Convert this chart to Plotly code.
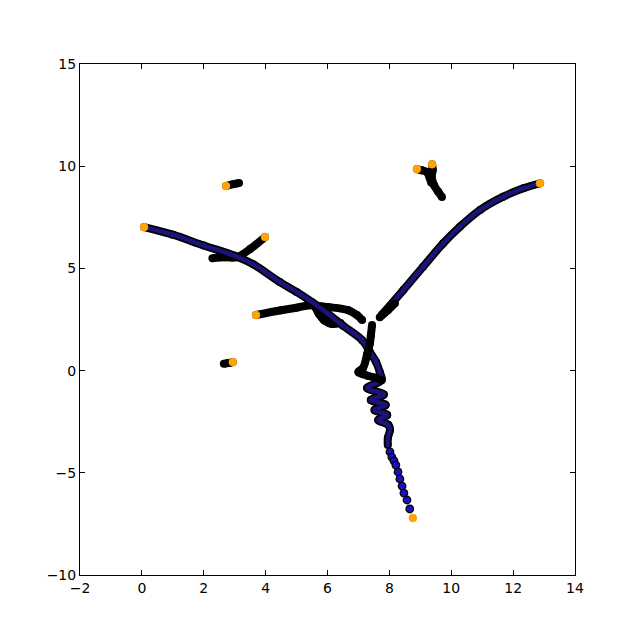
import plotly.graph_objects as go

# ---- data ----
# Blue trajectory A (dense part)
a_x = [0.07, 1.0, 2.0, 3.0, 3.6, 4.46, 5.0, 5.5, 6.0, 6.5, 7.12, 7.37, 7.57, 7.69, 7.75,
       7.28, 7.82, 7.40, 7.88, 7.52, 7.93, 7.64, 7.97, 8.02, 7.95, 7.95]
a_y = [7.02, 6.65, 6.12, 5.62, 5.2, 4.33, 3.85, 3.35, 2.80, 2.2, 1.49, 0.91, 0.42, -0.07, -0.46,
       -0.85, -1.17, -1.44, -1.68, -1.93, -2.17, -2.42, -2.66, -2.90, -3.30, -3.64]
# Blue trajectory A (sparse tail dots)
a_tail_x = [8.02, 8.08, 8.15, 8.21, 8.28, 8.34, 8.41, 8.47, 8.57, 8.66]
a_tail_y = [-3.98, -4.23, -4.42, -4.62, -4.96, -5.30, -5.65, -5.99, -6.33, -6.77]
# Blue trajectory B
b_x = [7.75, 8.45, 9.09, 9.74, 10.28, 10.93, 11.68, 12.33, 12.87]
b_y = [2.72, 3.94, 5.08, 6.23, 7.04, 7.86, 8.51, 8.92, 9.16]
b_black_x = [7.69, 7.95, 8.18]
b_black_y = [2.61, 2.95, 3.30]
# Black trajectories
c_x = [2.28, 2.7, 3.07, 3.5, 3.98]
c_y = [5.50, 5.54, 5.55, 5.95, 6.54]
d_x = [3.69, 4.5, 5.0, 5.44, 6.01, 6.66, 6.95, 7.12]
d_y = [2.72, 2.95, 3.08, 3.20, 3.11, 2.96, 2.72, 2.47]
loop_x = [5.60, 5.72, 5.90, 6.15, 6.42]
loop_y = [3.12, 2.78, 2.45, 2.28, 2.33]
e_x = [7.44, 7.40, 7.37, 7.28, 7.15, 7.00, 7.30, 7.55, 7.75]
e_y = [2.23, 1.70, 1.34, 0.80, 0.13, -0.07, -0.25, -0.35, -0.46]
g_x = [2.72, 2.95, 3.14]
g_y = [9.03, 9.12, 9.18]
h_x = [2.94, 2.80, 2.65]
h_y = [0.42, 0.37, 0.33]
f1_x = [8.89, 9.05, 9.21, 9.30, 9.35]
f1_y = [9.86, 9.80, 9.72, 9.45, 9.20]
f2_x = [9.38, 9.40, 9.37, 9.45, 9.58, 9.70]
f2_y = [10.10, 9.81, 9.45, 9.05, 8.75, 8.49]
# Orange end points
end_x = [0.07, 8.76, 12.87, 3.98, 3.69, 2.72, 2.94, 8.89, 9.38]
end_y = [7.02, -7.21, 9.16, 6.54, 2.72, 9.03, 0.42, 9.86, 10.10]

x_ticks = [-2, 0, 2, 4, 6, 8, 10, 12, 14]
y_ticks = [-10, -5, 0, 5, 10, 15]

BLACK_W = 8
BLUE_W = 4.5
BLUE = "#1b1478"

fig = go.Figure()

def black_path(xs, ys):
    fig.add_trace(go.Scatter(x=xs, y=ys, mode="lines+markers",
                             line=dict(color="black", width=BLACK_W, shape="spline"),
                             marker=dict(color="black", size=BLACK_W),
                             hoverinfo="skip", showlegend=False))

def blue_path(xs, ys):
    black_path(xs, ys)
    fig.add_trace(go.Scatter(x=xs, y=ys, mode="lines+markers",
                             line=dict(color=BLUE, width=BLUE_W, shape="spline"),
                             marker=dict(color=BLUE, size=BLUE_W),
                             hoverinfo="skip", showlegend=False))

for xs, ys in [(c_x, c_y), (d_x, d_y), (loop_x, loop_y), (g_x, g_y), (h_x, h_y),
               (f1_x, f1_y), (f2_x, f2_y)]:
    black_path(xs, ys)

blue_path(a_x, a_y)
blue_path(b_x, b_y)
black_path(b_black_x, b_black_y)
black_path(e_x, e_y)

fig.add_trace(go.Scatter(x=a_tail_x, y=a_tail_y, mode="markers",
                         marker=dict(color="#1a10c0", size=7.5,
                                     line=dict(color="black", width=1.3)),
                         hoverinfo="skip", showlegend=False))

fig.add_trace(go.Scatter(x=end_x, y=end_y, mode="markers",
                         marker=dict(color="#ffa500", size=8,
                                     line=dict(color="#f0a020", width=0.5)),
                         hoverinfo="skip", showlegend=False))

axis_common = dict(showline=True, linecolor="black", linewidth=1, mirror="ticks",
                   ticks="inside", ticklen=5, tickcolor="black", tickwidth=1,
                   showgrid=False, zeroline=False,
                   tickfont=dict(family="DejaVu Sans", size=14, color="black"))

fig.update_layout(
    width=632, height=632,
    margin=dict(l=72, r=65, t=56, b=65),
    paper_bgcolor="white", plot_bgcolor="white",
    xaxis=dict(range=[-2, 14], tickvals=x_ticks, **axis_common),
    yaxis=dict(range=[-10, 15], tickvals=y_ticks, **axis_common),
)

fig.write_html("out.html")
